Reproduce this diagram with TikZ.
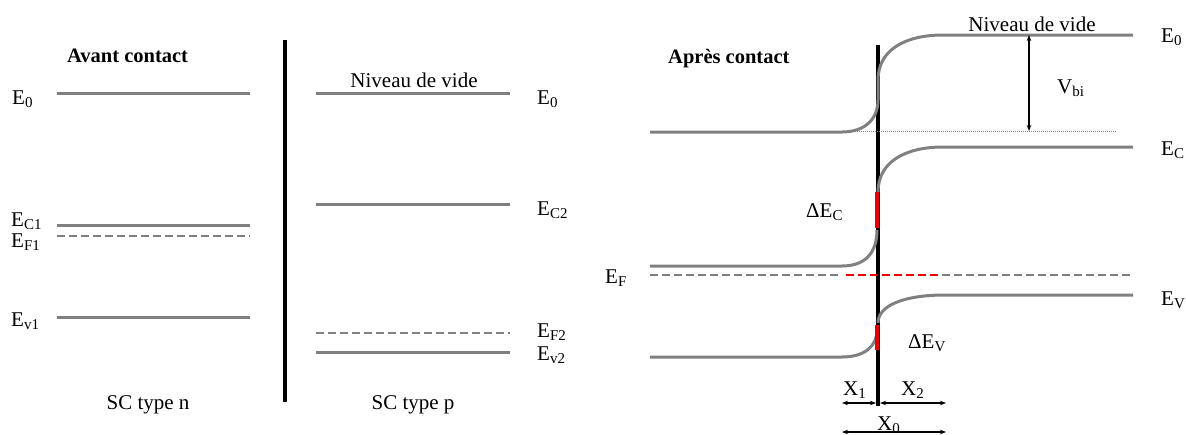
\documentclass[tikz,border=0pt]{standalone}
\usepackage{fontspec}
\setmainfont{Liberation Serif}
\usetikzlibrary{arrows.meta}
\definecolor{lvl}{RGB}{128,128,128}
\definecolor{rd}{RGB}{235,0,0}
\newcommand{\sbs}[1]{\raisebox{-0.32ex}{\fontsize{15}{15}\selectfont #1}}
\newcommand{\Esub}[2]{#1\sbs{#2}}
\tikzset{
  level/.style={draw=lvl, line width=3pt},
  levdash/.style={draw=lvl, line width=2.6pt, dash pattern=on 8pt off 4pt},
  reddash/.style={draw=rd, line width=2.6pt, dash pattern=on 8pt off 4pt},
  redseg/.style={draw=rd, line width=3.4pt},
  wall/.style={draw=black, line width=3.2pt},
  lab/.style={anchor=base west, inner sep=0pt, font=\fontsize{21}{25}\selectfont},
  labc/.style={anchor=base, inner sep=0pt, font=\fontsize{21}{25}\selectfont},
  title/.style={anchor=base west, inner sep=0pt, font=\fontsize{20.5}{25}\selectfont\bfseries},
  dim/.style={draw=black, line width=1.3pt, {Stealth[length=6pt,width=4.5pt]}-{Stealth[length=6pt,width=4.5pt]}},
  thindot/.style={draw=lvl, line width=0.8pt, dash pattern=on 1pt off 1pt}
}
\begin{document}
\begin{tikzpicture}[x=1pt,y=-1pt]
\useasboundingbox (0,0) rectangle (1186,434);
% ---------- left panel: avant contact ----------
\node[title] (tav) at (67,62) {Avant contact};
\draw[level] (57,93) -- (250,93);
\draw[level] (57,225) -- (250,225);
\draw[levdash] (57,236) -- (250,236);
\draw[level] (57,317) -- (250,317);
\node[lab] (e0a) at (12,104) {\Esub{E}{0}};
\node[lab] (ec1) at (11,226) {\Esub{E}{C1}};
\node[lab] (ef1) at (11,247) {\Esub{E}{F1}};
\node[lab] (ev1) at (11,326) {\Esub{E}{v1}};
\node[labc] (scn) at (148,409) {SC type n};
% separator
\coordinate (sepT) at (285,40);
\coordinate (sepB) at (285,402);
\draw[wall] (sepT) -- (sepB);
% ---------- middle panel ----------
\draw[level] (316,93) -- (510,93);
\draw[level] (316,204) -- (510,204);
\draw[levdash] (316,333) -- (510,333);
\draw[level] (316,352) -- (510,352);
\node[labc] (nv1) at (414,87) {Niveau de vide};
\node[lab] (e0b) at (537,104) {\Esub{E}{0}};
\node[lab] (ec2) at (537,215) {\Esub{E}{C2}};
\node[lab] (ef2) at (537,337) {\Esub{E}{F2}};
\node[lab] (ev2) at (537,360) {\Esub{E}{v2}};
\node[labc] (scp) at (413,409) {SC type p};
% ---------- right panel: apres contact ----------
\node[title] (tap) at (668,63) {Après contact};
\coordinate (jT) at (878,45);
\coordinate (jB) at (878,406);
\draw[wall] (jT) -- (jB);
% dotted reference
\draw[thindot] (845,131) -- (1117,131);
% vacuum level
\draw[level] (650,132) -- (842,132) .. controls (866,132) and (878,118) .. (878,100)
  -- (878,80) .. controls (878,50) and (905,35) .. (943,35) -- (1133,35);
% conduction band
\draw[level] (650,266) -- (842,266) .. controls (866,266) and (877,252) .. (877,230);
\draw[level] (878,192) .. controls (878,162) and (905,147) .. (943,147) -- (1133,147);
% Fermi level
\draw[levdash] (650,275) -- (842,275);
\draw[reddash] (846,275) -- (938,275);
\draw[levdash] (942,275) -- (1133,275);
% valence band
\draw[level] (650,357) -- (842,357) .. controls (866,357) and (877,345) .. (877,330);
\draw[level] (878,323) .. controls (878,305) and (905,295) .. (945,295) -- (1133,295);
% offsets
\draw[redseg] (877,192) -- (877,228);
\draw[redseg] (877,325) -- (877,350);
% labels
\node[labc] (nv2) at (1032,31) {Niveau de vide};
\node[lab] (e0c) at (1161,42) {\Esub{E}{0}};
\node[lab] (ecc) at (1161,155) {\Esub{E}{C}};
\node[lab] (evc) at (1161,305) {\Esub{E}{V}};
\node[lab] (efc) at (605,283) {\Esub{E}{F}};
\node[lab] (dec) at (806,217) {Δ\Esub{E}{C}};
\node[lab] (dev) at (908,348) {Δ\Esub{E}{V}};
\node[lab] (vbi) at (1057,93) {V\sbs{bi}};
% Vbi arrow
\coordinate (vT) at (1029,35);
\coordinate (vB) at (1029,131);
\draw[dim] (vT) -- (vB);
% widths
\coordinate (x1L) at (842,403);
\coordinate (x1R) at (876,403);
\coordinate (x2L) at (880,403);
\coordinate (x2R) at (946,403);
\coordinate (x0L) at (842,432);
\coordinate (x0R) at (946,432);
\draw[dim] (x1L) -- (x1R);
\draw[dim] (x2L) -- (x2R);
\draw[dim] (x0L) -- (x0R);
\node[lab] (x1) at (843,395) {X\sbs{1}};
\node[lab] (x2) at (901,395) {X\sbs{2}};
\node[lab] (x0) at (877,430) {X\sbs{0}};
\end{tikzpicture}
\end{document}
